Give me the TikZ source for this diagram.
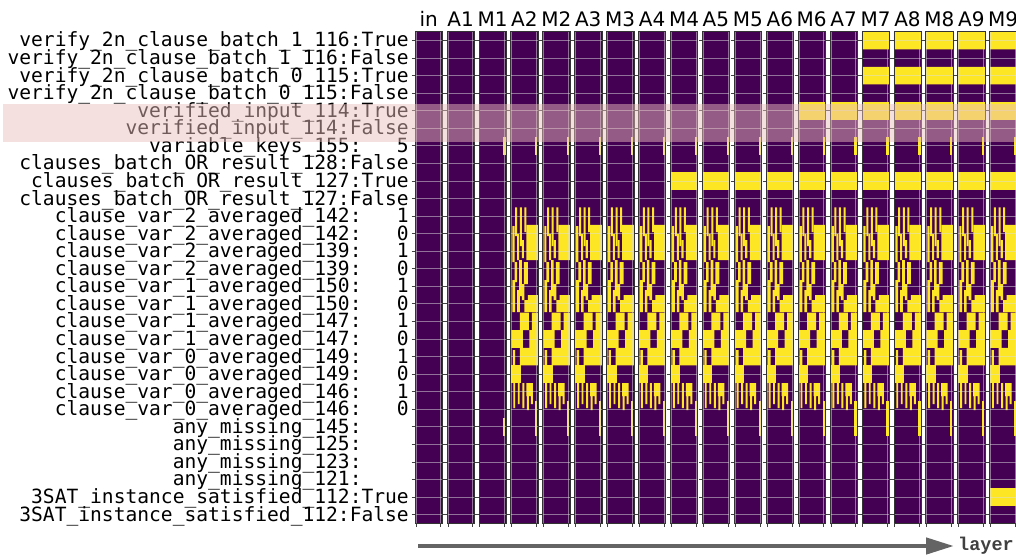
\documentclass[tikz,border=0pt]{standalone}
\usepackage{fontspec}
\usetikzlibrary{arrows.meta}
\newfontfamily\lblfont{DejaVu Sans Mono}
\newfontfamily\hdrfont{DejaVu Sans}
\newfontfamily\axfont{Liberation Mono}
\definecolor{vpurple}{RGB}{68,1,84}
\definecolor{vyellow}{RGB}{253,231,37}
\definecolor{bandpink}{RGB}{235,190,190}
\definecolor{arrgray}{RGB}{100,100,100}
\tikzset{
  rowlbl/.style={anchor=base east, inner sep=0pt, font=\lblfont\fontsize{19.6}{19.6}\selectfont},
  hdr/.style={anchor=base, inner sep=0pt, font=\hdrfont\fontsize{20}{20}\selectfont},
  yfill/.style={fill=vyellow},
  gridln/.style={draw=white!75!gray, line width=0.8pt, opacity=0.5},
  spine/.style={draw=black!80, line width=0.6pt},
  tickln/.style={draw=black!75, line width=0.8pt},
  hlband/.style={fill=bandpink, fill opacity=0.48},
  axarrow/.style={draw=arrgray, line width=4.5pt, -{Triangle[length=28pt,width=16pt]}},
  axlbl/.style={anchor=west, inner sep=0pt, text=black!75, font=\axfont\bfseries\fontsize{18.5}{18.5}\selectfont},
}
% yellow cells of the clause rows, panel relative
\newcommand\clausebits{%
  \fill[yfill] (4.4,207.3) rectangle (6.4,236) (9,207.3) rectangle (11,246)
    (13.6,207.3) rectangle (15.6,232);
  \fill[yfill] (1.6,226) rectangle (3.8,262) (6.4,234) rectangle (8.4,260)
    (11,240) rectangle (13.2,258) (15.6,224.9) rectangle (27.3,260);
  \fill[yfill] (3.8,262) rectangle (6.4,282) (8.4,260) rectangle (11,296)
    (13.2,262) rectangle (17,284) (1.6,280) rectangle (4.4,312)
    (11,284) rectangle (13.6,300);
  \fill[yfill] (6.4,290) rectangle (9,312) (17,295) rectangle (27.3,312)
    (13.6,300) rectangle (17,312);
  \fill[yfill] (9,312.6) rectangle (18,330.2) (21,312.6) rectangle (27.3,330.2);
  \fill[yfill] (0.6,330.2) rectangle (12,347.8) (18.5,330.2) rectangle (27.3,347.8);
  \fill[yfill] (9,347.8) rectangle (27.3,365.3) (2,350) rectangle (4.4,365.3);
  \fill[yfill] (0.6,365.3) rectangle (10,382.9);
  \fill[yfill] (2.5,383) rectangle (4.4,408) (7,383) rectangle (8.8,404)
    (11.5,383) rectangle (13.5,408) (15.5,383) rectangle (22,396)
    (16,396) rectangle (18,410) (20,396) rectangle (22,404);
  \fill[yfill] (24.5,400.5) rectangle (26.7,435.6);
}
\begin{document}
\begin{tikzpicture}[x=1pt,y=-1pt]
  \useasboundingbox (0,0) rectangle (1016,554);
  % row labels
  \foreach \k/\txt in {1/verify\_2n\_clause\_batch\_1\_116:True,
      2/verify\_2n\_clause\_batch\_1\_116:False,
      3/verify\_2n\_clause\_batch\_0\_115:True,
      4/verify\_2n\_clause\_batch\_0\_115:False,
      5/verified\_input\_114:True, 6/verified\_input\_114:False,
      7/variable\_keys\_155:\hphantom{000}5,
      8/clauses\_batch\_OR\_result\_128:False,
      9/clauses\_batch\_OR\_result\_127:True,
      10/clauses\_batch\_OR\_result\_127:False,
      11/clause\_var\_2\_averaged\_142:\hphantom{000}1,
      12/clause\_var\_2\_averaged\_142:\hphantom{000}0,
      13/clause\_var\_2\_averaged\_139:\hphantom{000}1,
      14/clause\_var\_2\_averaged\_139:\hphantom{000}0,
      15/clause\_var\_1\_averaged\_150:\hphantom{000}1,
      16/clause\_var\_1\_averaged\_150:\hphantom{000}0,
      17/clause\_var\_1\_averaged\_147:\hphantom{000}1,
      18/clause\_var\_1\_averaged\_147:\hphantom{000}0,
      19/clause\_var\_0\_averaged\_149:\hphantom{000}1,
      20/clause\_var\_0\_averaged\_149:\hphantom{000}0,
      21/clause\_var\_0\_averaged\_146:\hphantom{000}1,
      22/clause\_var\_0\_averaged\_146:\hphantom{000}0,
      23/any\_missing\_145:\hphantom{0000}, 24/any\_missing\_125:\hphantom{0000},
      25/any\_missing\_123:\hphantom{0000}, 26/any\_missing\_121:\hphantom{0000},
      27/3SAT\_instance\_satisfied\_112:True,
      28/3SAT\_instance\_satisfied\_112:False}{
    \pgfmathsetmacro\yc{31.7+(\k-0.5)*17.56}
    \node[rowlbl] (lbl-\k) at (409,\yc+6.5) {\txt};
  }
  % one panel per layer
  \foreach \i/\lay in {0/in,1/A1,2/M1,3/A2,4/M2,5/A3,6/M3,7/A4,8/M4,9/A5,
      10/M5,11/A6,12/M6,13/A7,14/M7,15/A8,16/M8,17/A9,18/M9}{
    \pgfmathsetmacro\xl{415+31.92*\i}
    \begin{scope}[shift={(\xl,0)}]
      \fill[vpurple] (0,31.7) rectangle (27.3,523.4);
      \ifnum\i>1 \fill[yfill] (24.5,137.1) rectangle (26.7,154.6); \fi
      \ifnum\i=2 \fill[yfill] (24.6,418) rectangle (26.4,435.6); \fi
      \ifnum\i>2 \clausebits \fi
      \ifnum\i>7 \fill[yfill] (0,172.2) rectangle (27.3,189.7); \fi
      \ifnum\i>11 \fill[yfill] (0,101.9) rectangle (27.3,119.5); \fi
      \ifnum\i>13 \fill[yfill] (0,31.7) rectangle (27.3,49.3) (0,66.8) rectangle (27.3,84.4); \fi
      \ifnum\i=18 \fill[yfill] (0,488.3) rectangle (27.3,505.8); \fi
      \foreach \k in {1,...,28}{
        \pgfmathsetmacro\yc{31.7+(\k-0.5)*17.56}
        \draw[gridln] (0,\yc) -- (27.3,\yc);
        \draw[tickln] (-3.5,\yc) -- (0,\yc);
      }
      \draw[gridln] (1,31.7) -- (1,523.4) (25.8,31.7) -- (25.8,523.4);
      \draw[spine] (0,31.7) rectangle (27.3,523.4);
      \draw[tickln] (1,523.4) -- (1,527) (25.8,523.4) -- (25.8,527);
    \end{scope}
    \node[hdr] (h-\lay) at (\xl+13.65,26) {\lay};
  }
  % highlighted rows
  \fill[hlband] (3,104) rectangle (1016,141.6);
  % layer axis
  \coordinate (axstart) at (418,546);
  \node[axlbl] (axis) at (958,546) {layer};
  \draw[axarrow, shorten >=4pt] (axstart) -- (axis.west);
\end{tikzpicture}
\end{document}
